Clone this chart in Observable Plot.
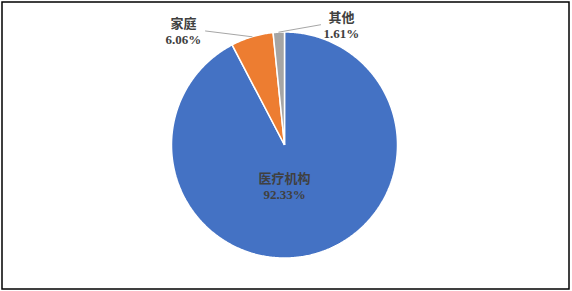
<!DOCTYPE html>
<html>
<head>
<meta charset="utf-8">
<script src="https://cdn.jsdelivr.net/npm/d3@7"></script>
<script src="https://cdn.jsdelivr.net/npm/@observablehq/plot@0.6"></script>
<style>
  html, body { margin: 0; padding: 0; background: #fff; }
  svg { display: block; }
</style>
</head>
<body>
<div id="chart"></div>
<script>
// Share of cases by place of occurrence (%)
const categories = ["医疗机构", "家庭", "其他"];
const shares = [92.33, 6.06, 1.61];
const colors = ["#4472C4", "#ED7D31", "#A5A5A5"];

// Label anchors and leader-line ends, in units of the pie radius
const labelPlacement = {
  "医疗机构": {x: 0.0, y: -0.374, leader: null},
  "家庭": {x: -0.894, y: 1.002, leader: [-0.699, 1.009]},
  "其他": {x: 0.504, y: 1.055, leader: [0.319, 1.064]}
};

// Pie layout: first slice starts at 12 o'clock and runs clockwise in data order
const arcs = d3.pie().sort(null).value(d => d)(shares);

// Each slice as a closed polygon on the unit circle
const slices = arcs.flatMap((a, i) => {
  const cat = categories[i];
  const n = Math.max(2, Math.ceil((a.endAngle - a.startAngle) / 0.01));
  const pts = [{cat, x: 0, y: 0}];
  for (let k = 0; k <= n; k++) {
    const t = a.startAngle + (a.endAngle - a.startAngle) * k / n;
    pts.push({cat, x: Math.sin(t), y: Math.cos(t)});
  }
  pts.push({cat, x: 0, y: 0});
  return pts;
});

const labels = arcs.map((a, i) => {
  const cat = categories[i];
  const p = labelPlacement[cat];
  return {cat, pct: shares[i].toFixed(2) + "%", x: p.x, y: p.y};
});

// Leader lines from the middle of each outer arc to its label
const leaders = arcs.flatMap((a, i) => {
  const cat = categories[i];
  const p = labelPlacement[cat];
  if (!p.leader) return [];
  const mid = (a.startAngle + a.endAngle) / 2;
  return [
    {cat, x: Math.sin(mid), y: Math.cos(mid)},
    {cat, x: p.leader[0], y: p.leader[1]}
  ];
});

const cx = 284, cy = 144.5, r = 113;
const cjkFont = "'Noto Sans CJK SC', 'Noto Sans', sans-serif";
const numFont = "'Liberation Serif', 'Times New Roman', serif";

const chart = Plot.plot({
  width: 572,
  height: 291,
  marginLeft: 1.5,
  marginTop: 1.5,
  marginRight: 3.5,
  marginBottom: 2.5,
  style: {background: "#fff", overflow: "visible"},
  x: {domain: [-1, 1], range: [cx - r, cx + r], axis: null},
  y: {domain: [-1, 1], range: [cy + r, cy - r], axis: null},
  color: {domain: categories, range: colors},
  marks: [
    Plot.frame({stroke: "#000", strokeWidth: 1.5}),
    Plot.line(slices, {
      x: "x", y: "y", z: "cat", fill: "cat",
      stroke: "#fff", strokeWidth: 1.5, strokeLinejoin: "miter", strokeLinecap: "butt"
    }),
    Plot.line(leaders, {x: "x", y: "y", z: "cat", stroke: "#A6A6A6", strokeWidth: 1}),
    Plot.text(labels, {
      x: "x", y: "y", text: "cat", dy: -8,
      fill: "#404040", fontSize: 13, fontWeight: "bold", fontFamily: cjkFont
    }),
    Plot.text(labels, {
      x: "x", y: "y", text: "pct", dy: 8,
      fill: "#404040", fontSize: 13, fontWeight: "bold", fontFamily: numFont
    })
  ]
});

document.getElementById("chart").appendChild(chart);
</script>
</body>
</html>
